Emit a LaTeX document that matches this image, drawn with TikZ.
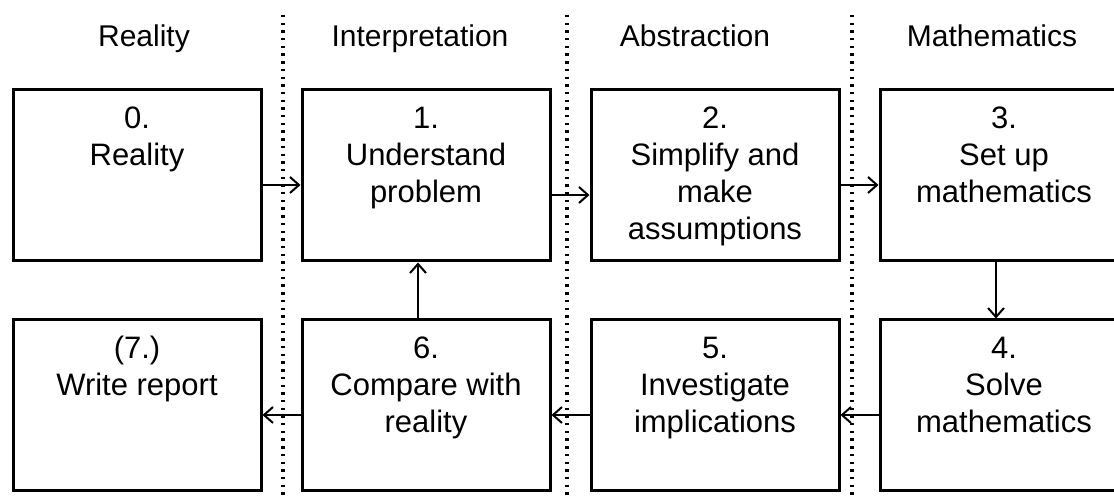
\documentclass[tikz,border=0pt]{standalone}
\usepackage{fontspec}
\setmainfont{Liberation Sans}
\usetikzlibrary{arrows.meta, positioning}
\tikzset{
  stepbox/.style={
    draw,
    rectangle,
    line width=1.5pt,
    minimum width=124pt,
    minimum height=85.5pt,
    inner sep=0pt
  },
  steptext/.style={
    align=center,
    inner sep=0pt,
    font=\fontsize{15.5}{18.5}\selectfont
  },
  heading/.style={
    anchor=base,
    inner sep=0pt,
    font=\fontsize{15}{18}\selectfont
  },
  arrow/.style={
    -{Straight Barb[length=4.5pt,width=8pt]},
    line width=1pt
  },
  divider/.style={
    line width=1.6pt,
    dash pattern=on 1.2pt off 2.65pt
  }
}
\begin{document}
\begin{tikzpicture}[x=0.5pt, y=-0.5pt, node distance=19pt]
  \useasboundingbox (0,0) rectangle (1114,496);

  % column headings
  \node[heading] (h0) at (144,47) {Reality};
  \node[heading] (h1) at (420,47) {Interpretation};
  \node[heading] (h2) at (695,47) {Abstraction};
  \node[heading] (h3) at (992,47) {Mathematics};

  % column dividers
  \draw[divider] (283,15) -- (283,496);
  \draw[divider] (567,15) -- (567,496);
  \draw[divider] (852,15) -- (852,496);

  % boxes
  \node[stepbox] (s0) at (137,175.5) {};
  \node[stepbox, right=of s0] (s1) {};
  \node[stepbox, right=of s1] (s2) {};
  \node[stepbox, right=of s2] (s3) {};
  \node[stepbox, below=28pt of s0] (s7) {};
  \node[stepbox, below=28pt of s1] (s6) {};
  \node[stepbox, below=28pt of s2] (s5) {};
  \node[stepbox, below=28pt of s3] (s4) {};

  % box texts
  \node[steptext, below=6.8pt of s0.north] (t0) {\strut 0.\\Reality};
  \node[steptext, below=6.8pt of s1.north] (t1) {\strut 1.\\Understand\\problem};
  \node[steptext, below=6.8pt of s2.north] (t2) {\strut 2.\\Simplify and\\make\\assumptions};
  \node[steptext, below=6.8pt of s3.north] (t3) {\strut 3.\\Set up\\mathematics};
  \node[steptext, below=6.8pt of s4.north] (t4) {\strut 4.\\Solve\\mathematics};
  \node[steptext, below=6.8pt of s5.north] (t5) {\strut 5.\\Investigate\\implications};
  \node[steptext, below=6.8pt of s6.north] (t6) {\strut 6.\\Compare with\\reality};
  \node[steptext, below=6.8pt of s7.north] (t7) {\strut (7.)\\Write report};

  % connectors
  \draw[arrow] ([yshift=-4.75pt]s0.east) -- ([yshift=-4.75pt]s1.west);
  \draw[arrow] ([yshift=-9.75pt]s1.east) -- ([yshift=-9.75pt]s2.west);
  \draw[arrow] ([yshift=-4.75pt]s2.east) -- ([yshift=-4.75pt]s3.west);
  \draw[arrow] ([xshift=-4pt]s3.south) -- ([xshift=-4pt]s4.north);
  \draw[arrow] ([yshift=-4.75pt]s4.west) -- ([yshift=-4.75pt]s5.east);
  \draw[arrow] ([yshift=-4.75pt]s5.west) -- ([yshift=-4.75pt]s6.east);
  \draw[arrow] ([yshift=-4.75pt]s6.west) -- ([yshift=-4.75pt]s7.east);
  \draw[arrow] ([xshift=-4pt]s6.north) -- ([xshift=-4pt]s1.south);
\end{tikzpicture}
\end{document}
